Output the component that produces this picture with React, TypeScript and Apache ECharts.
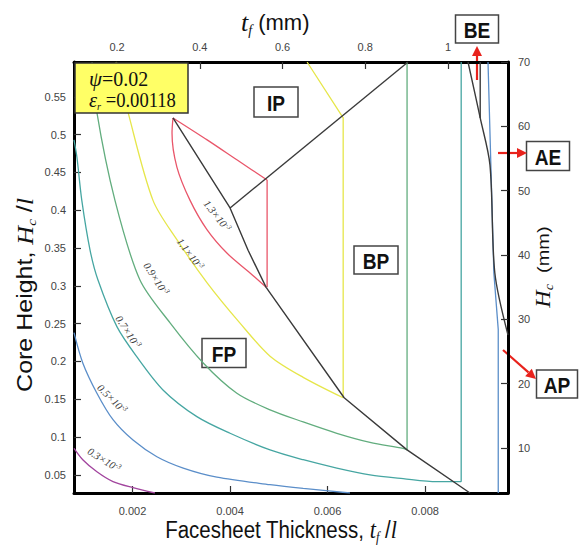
import React, { useEffect, useRef } from "react";
import * as echarts from "echarts";

// ---- tick values ----
const xTicks = [0.002, 0.004, 0.006, 0.008];
const yTicks = [0.05, 0.1, 0.15, 0.2, 0.25, 0.3, 0.35, 0.4, 0.45, 0.5, 0.55];
const topTicks = [0.2, 0.4, 0.6, 0.8, 1];
const rightTicks = [10, 20, 30, 40, 50, 60, 70];

// ---- contour lines (tf/l, Hc/l) ----
const c03 = [[0.0008, 0.085], [0.00098, 0.07], [0.00127, 0.054], [0.0016, 0.041], [0.00201, 0.033], [0.00246, 0.026]];
const c05 = [[0.0008, 0.238], [0.00098, 0.198], [0.00127, 0.158], [0.0016, 0.123], [0.00201, 0.096], [0.0025, 0.074], [0.00304, 0.059], [0.00373, 0.047], [0.00482, 0.037], [0.0055, 0.032], [0.00646, 0.026]];
const c05b = [[0.00929, 0.596], [0.00941, 0.317], [0.0095, 0.242], [0.0095, 0.026]];
const c07 = [[0.0008, 0.493], [0.00086, 0.47], [0.00096, 0.413], [0.00113, 0.347], [0.00129, 0.308], [0.00168, 0.246], [0.00209, 0.206], [0.00263, 0.162], [0.00332, 0.127], [0.004, 0.105], [0.00482, 0.083], [0.0055, 0.07], [0.00619, 0.059], [0.00687, 0.05], [0.00755, 0.045], [0.00824, 0.041], [0.00874, 0.041]];
const c07v = [[0.00874, 0.041], [0.00874, 0.596]];
const c09 = [[0.00117, 0.596], [0.00127, 0.529], [0.00164, 0.413], [0.00215, 0.308], [0.00277, 0.251], [0.00345, 0.198], [0.00414, 0.158], [0.00482, 0.136], [0.0055, 0.12], [0.00619, 0.105], [0.00687, 0.093], [0.00755, 0.085], [0.00763, 0.083]];
const c09v = [[0.00763, 0.083], [0.00763, 0.596]];
const c11 = [[0.00166, 0.596], [0.00191, 0.529], [0.00242, 0.413], [0.00291, 0.361], [0.00353, 0.304], [0.0042, 0.251], [0.00482, 0.207], [0.0055, 0.179], [0.00632, 0.152]];
const c11v = [[0.00632, 0.152], [0.00632, 0.522], [0.00558, 0.596]];
const c13a = [[0.00474, 0.298], [0.00441, 0.317], [0.00394, 0.343], [0.00353, 0.374], [0.00318, 0.413], [0.00291, 0.457], [0.00281, 0.502], [0.00283, 0.522]];
const c13b = [[0.00283, 0.522], [0.00353, 0.493], [0.0042, 0.464], [0.00476, 0.44]];
const c13v = [[0.00476, 0.44], [0.00476, 0.298]];

// ---- failure-mode boundaries ----
const bFP = [[0.00283, 0.522], [0.004, 0.403], [0.00437, 0.347], [0.00474, 0.298], [0.00634, 0.152], [0.00763, 0.083], [0.00892, 0.026]];
const bIP = [[0.004, 0.403], [0.00765, 0.596]];
const bAE = [[0.00888, 0.596], [0.00913, 0.522], [0.00933, 0.46], [0.00943, 0.317], [0.0097, 0.235]];
const bBE = [[0.00913, 0.596], [0.00913, 0.522]];

const contourLabels = ["0.3", "0.5", "0.7", "0.9", "1.1", "1.3"];
const regionLabels = ["IP", "BP", "FP", "BE", "AE", "AP"];

const COLORS = {
  c03: "#a2459e",
  c05: "#5b8ec9",
  c07: "#46a6a2",
  c09: "#62ad7e",
  c11: "#e6e64a",
  c13: "#e9566a",
  b: "#3a3a3a",
};

const SANS = "Liberation Sans, Arial, sans-serif";
const SERIF = "Liberation Serif, Times New Roman, serif";

function ln(data: number[][], color: string, smooth: number | boolean, width = 1.3) {
  return {
    type: "line",
    data,
    xAxisIndex: 0,
    yAxisIndex: 0,
    showSymbol: false,
    symbol: "none",
    smooth,
    silent: true,
    lineStyle: { color, width },
    z: 3,
  };
}

function tickAxis(extra: any, ticks: number[], margin: number) {
  return {
    type: "value",
    axisLine: { show: true, onZero: false, lineStyle: { color: "#000", width: 3 } },
    axisTick: { show: true, inside: true, length: 7, customValues: ticks, lineStyle: { color: "#333", width: 1.2 } },
    axisLabel: {
      show: true,
      customValues: ticks,
      margin,
      fontSize: 11,
      color: "#444",
      fontFamily: SANS,
      formatter: (v: number) => String(v),
    },
    splitLine: { show: false },
    ...extra,
  };
}

function box(cx: number, cy: number, w: number, h: number, label: string) {
  return {
    type: "group",
    z: 20,
    children: [
      {
        type: "rect",
        shape: { x: cx - w / 2, y: cy - h / 2, width: w, height: h },
        style: { fill: "#fff", stroke: "#444", lineWidth: 1.5 },
      },
      {
        type: "text",
        x: cx,
        y: cy + 1,
        scaleX: 0.87,
        style: { text: label, font: `bold 22px ${SANS}`, fill: "#111", align: "center", verticalAlign: "middle" },
      },
    ],
  };
}

function arrow(x1: number, y1: number, x2: number, y2: number) {
  const dx = x2 - x1, dy = y2 - y1;
  const L = Math.sqrt(dx * dx + dy * dy);
  const ux = dx / L, uy = dy / L;
  const hl = 10, hw = 5;
  const bx = x2 - ux * hl, by = y2 - uy * hl;
  const px = -uy * hw, py = ux * hw;
  return {
    type: "group",
    z: 25,
    children: [
      { type: "line", shape: { x1, y1, x2: bx, y2: by }, style: { stroke: "#e8221c", lineWidth: 2.2 } },
      {
        type: "polygon",
        shape: { points: [[x2, y2], [bx + px, by + py], [bx - px, by - py]] },
        style: { fill: "#e8221c" },
      },
    ],
  };
}

function cLabel(x: number, y: number, deg: number, val: string) {
  return {
    type: "text",
    x,
    y,
    z: 15,
    rotation: (deg * Math.PI) / 180,
    style: {
      text: `{a|${val}×10}{s|-3}`,
      align: "center",
      verticalAlign: "middle",
      rich: {
        a: { font: `italic 10.5px ${SERIF}`, fill: "#3a3a3a", lineHeight: 12 },
        s: { font: `italic 7px ${SERIF}`, fill: "#3a3a3a", lineHeight: 7, verticalAlign: "top" },
      },
      fill: "#3a3a3a",
    },
  };
}

export default function App() {
  const ref = useRef<HTMLDivElement>(null);
  useEffect(() => {
    if (!ref.current) return;
    const chart = echarts.init(ref.current, undefined, { renderer: "svg" });

    const series = [
      ln(c03, COLORS.c03, 0.3),
      ln(c05, COLORS.c05, 0.3),
      ln(c05b, COLORS.c05, false),
      ln(c07, COLORS.c07, 0.3),
      ln(c07v, COLORS.c07, false),
      ln(c09, COLORS.c09, 0.3),
      ln(c09v, COLORS.c09, false),
      ln(c11, COLORS.c11, 0.3),
      ln(c11v, COLORS.c11, false),
      ln(c13a, COLORS.c13, 0.3),
      ln(c13b, COLORS.c13, 0.3),
      ln(c13v, COLORS.c13, false),
      ln(bFP, COLORS.b, false, 1.4),
      ln(bIP, COLORS.b, false, 1.4),
      ln(bAE, COLORS.b, 0.3, 1.4),
      ln(bBE, COLORS.b, false, 1.4),
    ];

    const subRich = (mainSize: number, subSize: number, sansSize: number) => ({
      t: { font: `italic ${mainSize}px ${SERIF}`, fill: "#111", lineHeight: mainSize + 4 },
      s: { font: `italic ${subSize}px ${SERIF}`, fill: "#111", lineHeight: 6, verticalAlign: "bottom" },
      n: { font: `${sansSize}px ${SANS}`, fill: "#111", lineHeight: mainSize + 4 },
    });

    const graphic: any[] = [
      // parameter box
      {
        type: "rect",
        z: 20,
        shape: { x: 75, y: 63, width: 113, height: 50 },
        style: { fill: "#ffff66", stroke: "#333", lineWidth: 1.5 },
      },
      {
        type: "text",
        z: 21,
        x: 89,
        y: 79,
        scaleX: 0.95,
        style: {
          text: "{g|ψ}{n|=0.02}",
          align: "left",
          verticalAlign: "middle",
          rich: {
            g: { font: `italic 22px ${SERIF}`, fill: "#111", lineHeight: 24 },
            n: { font: `21px ${SERIF}`, fill: "#111", lineHeight: 24 },
          },
        },
      },
      {
        type: "text",
        z: 21,
        x: 89,
        y: 100,
        scaleX: 0.93,
        style: {
          text: "{g|ε}{s|r}{n| =0.00118}",
          align: "left",
          verticalAlign: "middle",
          rich: {
            g: { font: `italic 22px ${SERIF}`, fill: "#111", lineHeight: 24 },
            s: { font: `italic 11px ${SERIF}`, fill: "#111", lineHeight: 6, verticalAlign: "bottom" },
            n: { font: `20px ${SERIF}`, fill: "#111", lineHeight: 24 },
          },
        },
      },
      // axis titles
      {
        type: "text",
        x: 241,
        y: 22,
        style: { text: "{t|t}{s|f}{n| (mm)}", align: "left", verticalAlign: "middle", rich: subRich(26, 14, 22) },
      },
      {
        type: "text",
        x: 281,
        y: 530,
        scaleX: 0.89,
        style: {
          text: "{n|Facesheet Thickness, }{t|t}{s|f}{n| /}{t|l}",
          align: "center",
          verticalAlign: "middle",
          rich: subRich(25, 14, 23),
        },
      },
      {
        type: "text",
        x: 25,
        y: 295,
        rotation: Math.PI / 2,
        scaleY: 0.87,
        style: {
          text: "{n|Core Height, }{t|H}{s|c}{n| /}{t|l}",
          align: "center",
          verticalAlign: "middle",
          rich: subRich(26, 15, 25),
        },
      },
      {
        type: "text",
        x: 543,
        y: 267,
        rotation: Math.PI / 2,
        scaleY: 0.87,
        style: { text: "{t|H}{s|c}{n|  (mm)}", align: "center", verticalAlign: "middle", rich: subRich(24, 14, 20) },
      },
      // contour labels
      cLabel(104, 460, -32, contourLabels[0]),
      cLabel(112, 399, -45, contourLabels[1]),
      cLabel(128, 332, -57, contourLabels[2]),
      cLabel(156, 279, -57, contourLabels[3]),
      cLabel(190, 254, -53, contourLabels[4]),
      cLabel(217, 216, -52, contourLabels[5]),
      // region boxes
      box(276, 102, 44, 30, regionLabels[0]),
      box(376, 260, 44, 28, regionLabels[1]),
      box(224, 353, 44, 29, regionLabels[2]),
      box(477, 29, 43, 28, regionLabels[3]),
      box(548, 156, 43, 29, regionLabels[4]),
      box(557, 384, 41, 28, regionLabels[5]),
      // arrows
      arrow(477, 80, 477, 46),
      arrow(498, 153, 527, 153),
      arrow(503, 350, 536, 379),
    ];

    chart.setOption({
      animation: false,
      backgroundColor: "#fff",
      grid: { left: 74, right: 73, top: 62, bottom: 52, containLabel: false, outerBoundsMode: "none" },
      xAxis: [
        tickAxis({ position: "bottom", min: 0.0008, max: 0.0097 }, xTicks, 12),
        tickAxis({ position: "top", min: 0.096, max: 1.145 }, topTicks, 10),
      ],
      yAxis: [
        tickAxis({ position: "left", min: 0.026, max: 0.596 }, yTicks, 8),
        tickAxis({ position: "right", min: 3.0, max: 70 }, rightTicks, 10),
      ],
      series,
      graphic,
    });
    return () => chart.dispose();
  }, []);
  return (
    <div
      ref={ref}
      style={{ position: "fixed", left: 0, top: 0, width: 581, height: 545, background: "#fff" }}
    />
  );
}
